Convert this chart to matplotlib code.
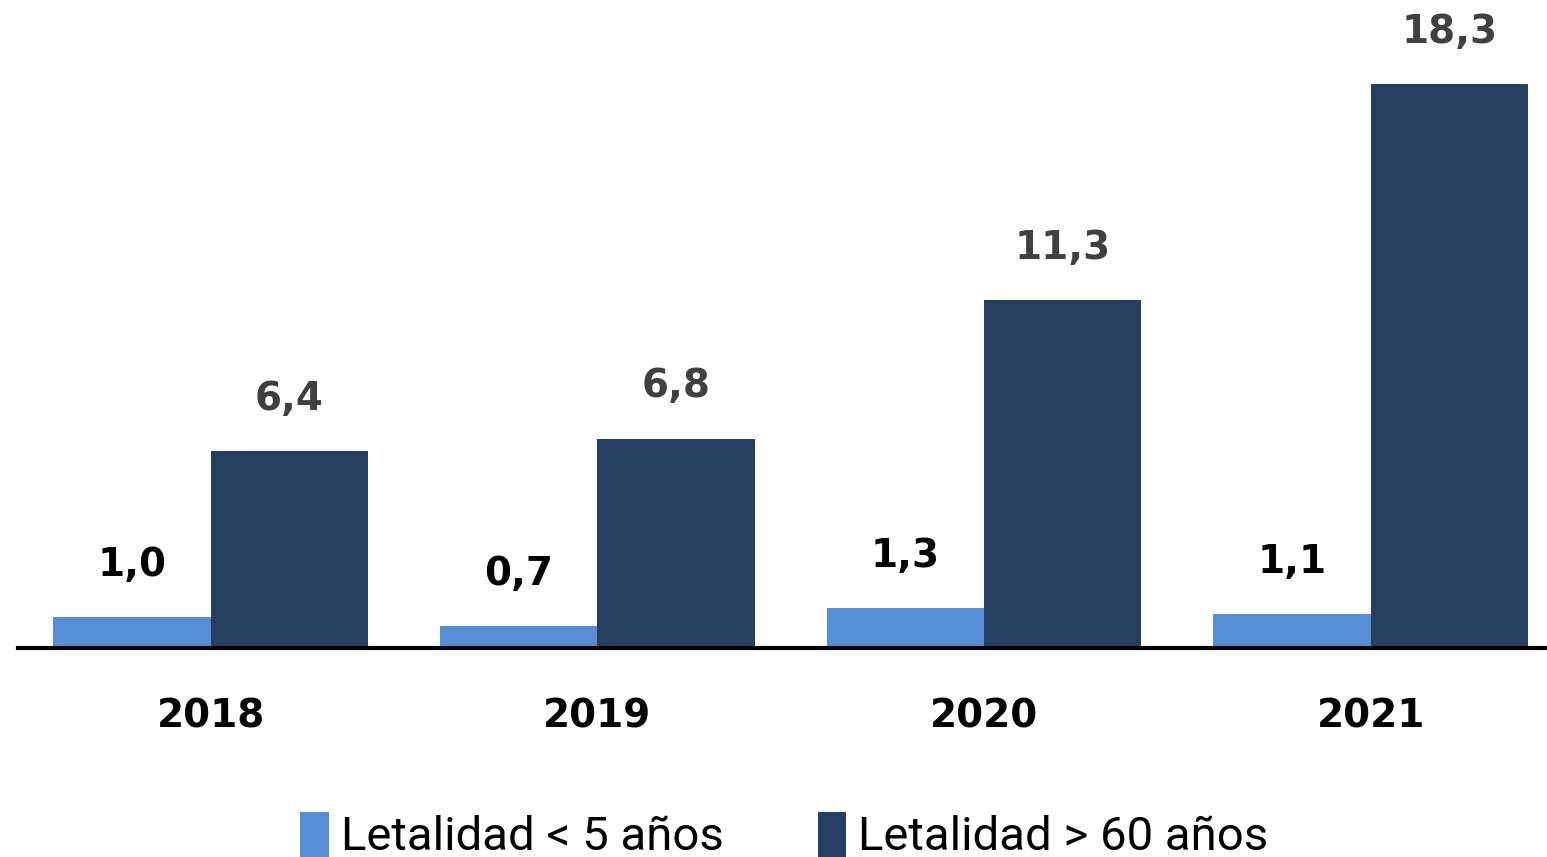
import numpy as np
import matplotlib.pyplot as plt

years = ["2018", "2019", "2020", "2021"]
menores_5 = [1.0, 0.7, 1.3, 1.1]
mayores_60 = [6.4, 6.8, 11.3, 18.3]
series_names = ["Letalidad < 5 años", "Letalidad > 60 años"]

color_light = "#558ed5"
color_dark = "#253f60"

fig = plt.figure(figsize=(15.47, 8.57), dpi=100)
ax = fig.add_axes([18 / 1547, 209 / 857, 1529 / 1547, 648 / 857])

x = np.arange(len(years))
w = 0.407
b1 = ax.bar(x - w / 2, menores_5, w, color=color_light, label=series_names[0])
b2 = ax.bar(x + w / 2, mayores_60, w, color=color_dark, label=series_names[1])

def fmt(v):
    return f"{v:.1f}".replace(".", ",")

for rect, v in zip(b1, menores_5):
    ax.annotate(fmt(v), (rect.get_x() + rect.get_width() / 2, v),
                xytext=(0, 24), textcoords="offset points", ha="center", va="bottom",
                fontsize=28, fontweight="bold", color="#000000")
for rect, v in zip(b2, mayores_60):
    ax.annotate(fmt(v), (rect.get_x() + rect.get_width() / 2, v),
                xytext=(0, 24), textcoords="offset points", ha="center", va="bottom",
                fontsize=28, fontweight="bold", color="#404040")

ax.set_xlim(-0.498, 3.456)
ax.set_ylim(0, 21.04)
ax.set_xticks(x)
ax.set_xticklabels(years, fontsize=28, fontweight="bold")
ax.tick_params(axis="x", length=0, pad=36)
ax.set_yticks([])
for s in ["top", "right", "left"]:
    ax.spines[s].set_visible(False)
ax.spines["bottom"].set_linewidth(3)
ax.spines["bottom"].set_color("black")

fig.legend(handles=[b1, b2], labels=series_names, loc="upper center",
           bbox_to_anchor=(0.507, 1 - 788 / 857), ncol=2, frameon=False,
           prop={"family": ["Roboto", "DejaVu Sans"], "size": 34},
           handlelength=0.6, handleheight=1.1, handletextpad=0.25,
           columnspacing=2.0, borderpad=0)

fig.savefig("out.png", dpi=100)
